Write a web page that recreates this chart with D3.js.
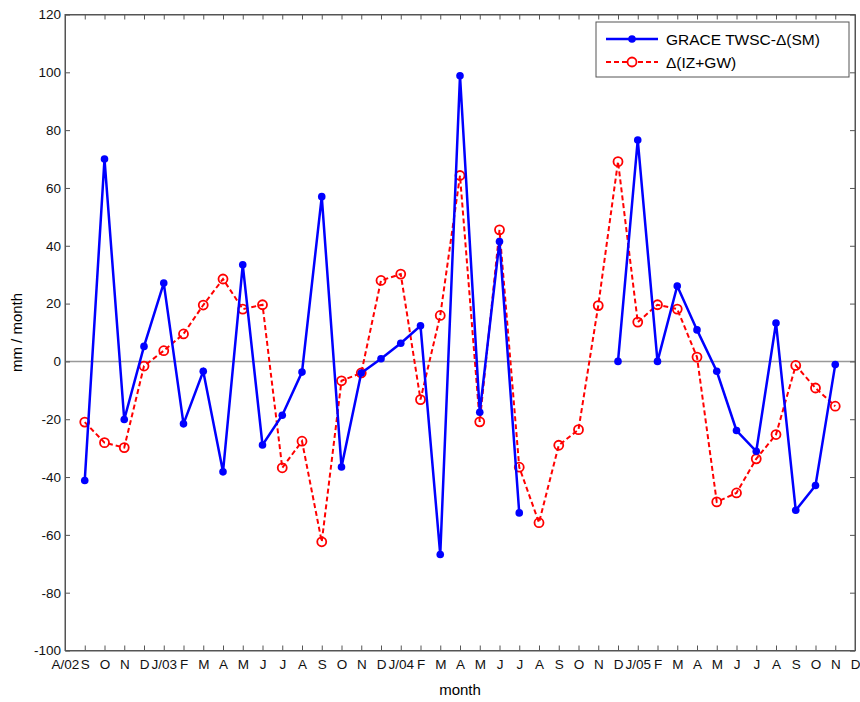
<!DOCTYPE html>
<html>
<head>
<meta charset="utf-8">
<script src="https://cdn.jsdelivr.net/npm/d3@7"></script>
<style>
  body { margin: 0; background: #fff; }
  svg { display: block; font-family: Arial, "Liberation Sans", sans-serif; }
  .axis path, .axis line { stroke: #555; }
  .axis text { fill: #111; font-size: 13.5px; }
</style>
</head>
<body>
<svg width="860" height="702"></svg>
<script>
// month tick labels, Aug 2002 .. Dec 2005
var months = ["A/02","S","O","N","D","J/03","F","M","A","M","J","J","A","S","O","N",
              "D","J/04","F","M","A","M","J","J","A","S","O","N",
              "D","J/05","F","M","A","M","J","J","A","S","O","N","D"];

// GRACE TWSC - delta(SM), mm/month (null = no data)
var grace = [null, -41.2, 70.0, -20.1, 5.2, 27.1, -21.6, -3.4, -38.2, 33.4, -28.9, -18.6, -3.7,
             57.0, -36.5, -4.0, 0.9, 6.3, 12.3, -66.8, 98.8, -17.6, 41.5, -52.4,
             null, null, null, null, 0, 76.6, 0, 26.1, 10.9, -3.4, -23.9, -31.1, 13.3,
             -51.5, -42.9, -1.1, null];

// delta(IZ + GW), mm/month
var izgw = [null, -21.0, -28.1, -29.8, -1.6, 3.7, 9.5, 19.5, 28.5, 18.1, 19.6, -36.8, -27.6,
            -62.4, -6.7, -4.0, 28.0, 30.2, -13.2, 15.9, 64.3, -20.9, 45.5, -36.6,
            -55.8, -29.0, -23.6, 19.3, 69.1, 13.6, 19.6, 18.1, 1.5, -48.6, -45.5, -33.7,
            -25.3, -1.4, -9.2, -15.5, null];

var yTicks = d3.range(-100, 121, 20);

var svg = d3.select("svg");
var margin = {top: 14.5, right: 5, bottom: 51.5, left: 65};
var width = +svg.attr("width") - margin.left - margin.right;
var height = +svg.attr("height") - margin.top - margin.bottom;

var x = d3.scaleLinear().domain([0, months.length - 1]).range([0, width]);
var y = d3.scaleLinear().domain([-100, 120]).range([height, 0]);

var g = svg.append("g")
  .attr("transform", "translate(" + margin.left + "," + margin.top + ")");

// zero line
g.append("line")
  .attr("x1", 0).attr("x2", width)
  .attr("y1", y(0)).attr("y2", y(0))
  .attr("stroke", "#999").attr("stroke-width", 1.5);

// axes, ticks inward on all four sides
g.append("g")
  .attr("class", "axis")
  .attr("transform", "translate(0," + height + ")")
  .call(d3.axisBottom(x).tickValues(d3.range(months.length))
    .tickFormat(function(i) { return months[i]; })
    .tickSizeInner(-5).tickSizeOuter(0).tickPadding(9))
  .selectAll("text").attr("dy", "0.71em");

g.append("g")
  .attr("class", "axis")
  .call(d3.axisTop(x).tickValues(d3.range(months.length))
    .tickFormat("").tickSizeInner(-5).tickSizeOuter(0));

g.append("g")
  .attr("class", "axis")
  .call(d3.axisLeft(y).tickValues(yTicks)
    .tickFormat(function(d) { return String(d); })
    .tickSizeInner(-5).tickSizeOuter(0).tickPadding(4));

g.append("g")
  .attr("class", "axis")
  .attr("transform", "translate(" + width + ",0)")
  .call(d3.axisRight(y).tickValues(yTicks)
    .tickFormat("").tickSizeInner(-5).tickSizeOuter(0));

// series
var line = d3.line()
  .defined(function(d) { return d != null; })
  .x(function(d, i) { return x(i); })
  .y(function(d) { return y(d); });

g.append("path")
  .datum(izgw)
  .attr("fill", "none")
  .attr("stroke", "#f00")
  .attr("stroke-width", 2)
  .attr("stroke-dasharray", "5,3")
  .attr("d", line);

g.selectAll(".izgw")
  .data(izgw.map(function(v, i) { return {i: i, v: v}; }).filter(function(d) { return d.v != null; }))
  .enter().append("circle")
  .attr("class", "izgw")
  .attr("cx", function(d) { return x(d.i); })
  .attr("cy", function(d) { return y(d.v); })
  .attr("r", 4.5)
  .attr("fill", "none")
  .attr("stroke", "#f00")
  .attr("stroke-width", 1.8);

g.append("path")
  .datum(grace)
  .attr("fill", "none")
  .attr("stroke", "#00f")
  .attr("stroke-width", 2.5)
  .attr("d", line);

g.selectAll(".grace")
  .data(grace.map(function(v, i) { return {i: i, v: v}; }).filter(function(d) { return d.v != null; }))
  .enter().append("circle")
  .attr("class", "grace")
  .attr("cx", function(d) { return x(d.i); })
  .attr("cy", function(d) { return y(d.v); })
  .attr("r", 3.8)
  .attr("fill", "#00f");

// frame
g.append("rect")
  .attr("width", width).attr("height", height)
  .attr("fill", "none").attr("stroke", "#555");

// axis labels
svg.append("text")
  .attr("x", margin.left + width / 2).attr("y", 695)
  .attr("text-anchor", "middle")
  .style("font-size", "15px")
  .text("month");

svg.append("text")
  .attr("transform", "translate(22," + (margin.top + height / 2) + ") rotate(-90)")
  .attr("text-anchor", "middle")
  .style("font-size", "15px")
  .text("mm / month");

// legend
var lg = svg.append("g").attr("transform", "translate(596,22)");
lg.append("rect")
  .attr("width", 253).attr("height", 55)
  .attr("fill", "#fff").attr("stroke", "#555");

lg.append("line").attr("x1", 10).attr("x2", 62).attr("y1", 17).attr("y2", 17)
  .attr("stroke", "#00f").attr("stroke-width", 2.5);
lg.append("circle").attr("cx", 36).attr("cy", 17).attr("r", 3.8).attr("fill", "#00f");
lg.append("text").attr("x", 70).attr("y", 22.5).style("font-size", "15.5px")
  .text("GRACE TWSC-\u0394(SM)");

lg.append("line").attr("x1", 10).attr("x2", 62).attr("y1", 40).attr("y2", 40)
  .attr("stroke", "#f00").attr("stroke-width", 2).attr("stroke-dasharray", "5,3");
lg.append("circle").attr("cx", 36).attr("cy", 40).attr("r", 4.5)
  .attr("fill", "#fff").attr("stroke", "#f00").attr("stroke-width", 1.8);
lg.append("text").attr("x", 70).attr("y", 45.5).style("font-size", "15.5px")
  .text("\u0394(IZ+GW)");
</script>
</body>
</html>
